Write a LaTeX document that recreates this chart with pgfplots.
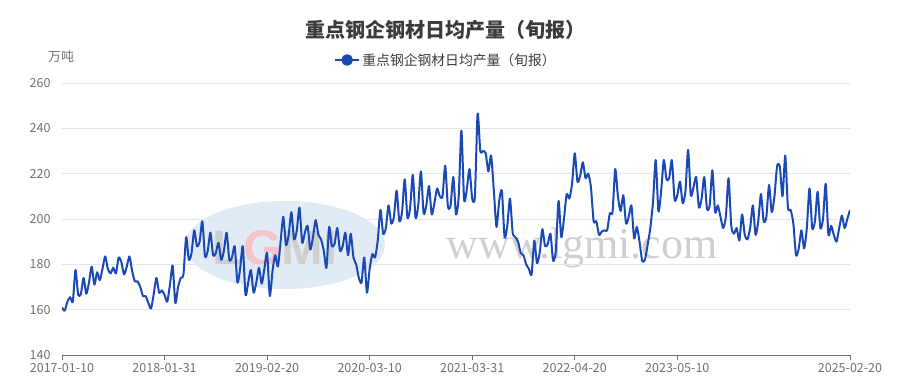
\documentclass[border=0pt]{standalone}
\usepackage{pgfplots}
\pgfplotsset{compat=1.18}
\usepackage{pgfplotstable}
\usepackage{fontspec}
\setmainfont{Noto Sans CJK SC}
\newfontfamily\wmserif{Liberation Serif}
\newfontfamily\wmsans{Liberation Sans}
\definecolor{lineblue}{HTML}{1A48B5}
\definecolor{gridcol}{HTML}{E0E6F1}
\definecolor{axisgray}{HTML}{6E7079}
\definecolor{titlegray}{HTML}{3A3A3A}
\definecolor{wmblue}{HTML}{D3E2F2}
\definecolor{wmgray}{HTML}{CFCFCF}
\definecolor{wmpink}{HTML}{F4C2C8}

\pgfplotstableread{
i v
0 161
1 159.5
2 163.5
3 165.5
4 163.5
5 177.5
6 166.5
7 167
8 174
9 167
10 172
11 179
12 171
13 176.5
14 173
15 178
16 183.5
17 178
18 176
19 178.5
20 176
21 183
22 181
23 175.5
24 179
25 183.5
26 177
27 172.5
28 172.5
29 170
30 166
31 166
32 163
33 160.5
34 167
35 174
36 167.5
37 168.5
38 166.5
39 163.5
40 171
41 179.5
42 163
43 170
44 174
45 175.5
46 192
47 182
48 185
49 195
50 188
51 190
52 199
53 183.5
54 186
55 194
56 184
57 185
58 189.5
59 182
60 186
61 194
62 182
63 183
64 188
65 172
66 178
67 188
68 166.5
69 172
70 177.5
71 167.5
72 172
73 178.5
74 171.5
75 178
76 185
77 166
78 177
79 184
80 179
81 190
82 201
83 188.5
84 193
85 203
86 191
87 195
88 205
89 189.5
90 194
91 197
92 186.5
93 192
94 199.5
95 193
96 191
97 186
98 178.5
99 196.5
100 188
101 189
102 196
103 186
104 188
105 194
106 184
107 193.5
108 183
109 180
110 174
111 172
112 183
113 167.5
114 178
115 184.5
116 183
117 190.5
118 204
119 193.5
120 196
121 206
122 198
123 201
124 212.5
125 199
126 203
127 217.5
128 200.5
129 205
130 219.5
131 200.5
132 206
133 221
134 202.5
135 206
136 214.5
137 202
138 207
139 213.5
140 210
141 210
142 223.5
143 205.5
144 206
145 218.5
146 202
147 210
148 239
149 208.5
150 213
151 222
152 209
153 210
154 246.5
155 230
156 230
157 229
158 221
159 228
160 213
161 196.5
162 208
163 212.5
164 192
165 197
166 209
167 194
168 192
169 190
170 185
171 184
172 180
173 178
174 175.5
175 190.5
176 180.5
177 185
178 195.5
179 188
180 189
181 193.5
182 181.5
183 186
184 208
185 192
186 200
187 211
188 209
189 215.5
190 229
191 216.5
192 219
193 225
194 218
195 220
196 214
197 199
198 199
199 193
200 194.5
201 195
202 195
203 202.5
204 203
205 222
206 210
207 203.5
208 210.5
209 198
210 201
211 206
212 191.5
213 196.5
214 190
215 181.5
216 182
217 188.5
218 196
219 207.5
220 226
221 203.5
222 212
223 226
224 217.5
225 218
226 226
227 208.5
228 210.5
229 216.5
230 207
231 212
232 230.5
233 210.5
234 214
235 218.5
236 205
237 209
238 218.5
239 204.5
240 206
241 221.5
242 203
243 206
244 201
245 196
246 201
247 218
248 197
249 193.5
250 196
251 190.5
252 202
253 193
254 191
255 196
256 206
257 193
258 199
259 211
260 199
261 201
262 215
263 203
264 210
265 223.5
266 223
267 210
268 228
269 205
270 204
271 198
272 184
273 187
274 195
275 187
276 196
277 213.5
278 196
279 199
280 212
281 196
282 200
283 215.5
284 193
285 197
286 193
287 190
288 196
289 201.5
290 196
291 200
292 204
}\prod

\begin{document}
\begin{tikzpicture}[x=1pt,y=1pt]
\path[use as bounding box] (0,0) rectangle (912,386);
% watermark
\fill[wmblue, opacity=0.7] (285,141) ellipse (100 and 44);
\node[font=\wmsans\bfseries\fontsize{50}{50}\selectfont, text=wmgray] at (275,138) {L\textcolor{wmpink}{G}MI};
\node[font=\wmserif\fontsize{44}{44}\selectfont, text=wmgray] at (582,138) {www.lgmi.com};
% title
\node[font=\bfseries\fontsize{20}{20}\selectfont, text=titlegray] at (445,356) {重点钢企钢材日均产量（旬报）};
\node[font=\fontsize{13}{13}\selectfont, text=axisgray] at (61,329) {万吨};
\begin{axis}[
  at={(62pt,31pt)}, anchor=south west,
  scale only axis, width=788pt, height=272pt,
  xmin=0, xmax=292, ymin=140, ymax=260,
  xtick={0,38,76,114,152,190,228,292},
  xticklabels={2017-01-10,2018-01-31,2019-02-20,2020-03-10,2021-03-31,2022-04-20,2023-05-10,2025-02-20},
  ytick={140,160,...,260},
  axis x line*=bottom, axis y line*=left,
  x axis line style={-, axisgray, line width=1pt},
  y axis line style={draw=none},
  ytick style={draw=none},
  xtick style={axisgray, line width=0.8pt},
  tick align=outside, major tick length=5pt,
  ymajorgrids, grid style={gridcol, line width=0.8pt},
  tick label style={font=\fontsize{12.5}{12.5}\selectfont, text=axisgray},
  /pgf/number format/assume math mode=true,
  yticklabel style={xshift=-3pt},
  legend style={draw=none, fill=none, at={(0.4870,1.0846)}, anchor=center,
    font=\fontsize{13.8}{13.8}\selectfont, text=titlegray},
  legend image code/.code={\draw[lineblue, line width=2.5pt] (-2pt,0pt) -- (22pt,0pt); \fill[lineblue] (10pt,0pt) circle (4.8pt);},
]
\addplot[lineblue, line width=2pt, smooth, tension=0.4, line join=round] table[x=i, y=v] {\prod};
\addlegendentry{重点钢企钢材日均产量（旬报）}
\end{axis}
\end{tikzpicture}
\end{document}
